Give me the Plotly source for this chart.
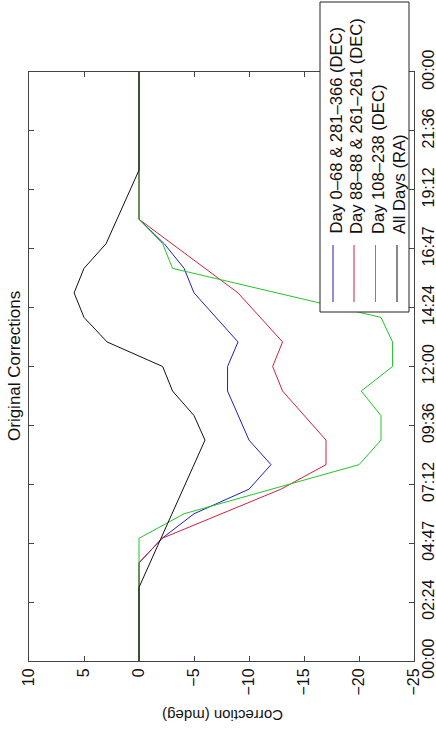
import plotly.graph_objects as go

# Hour-of-day samples (hours) and corrections (mdeg) for each series
blue_t = [0, 4, 5, 6, 7, 8, 9, 11, 12, 13, 15, 16, 17, 18, 24]
blue_v = [0, 0, -2.1, -5.0, -10.0, -12.0, -10.0, -8.05, -8.05, -9.0, -5.0, -4.1, -2.3, 0, 0]

red_t = [0, 4, 5, 7, 8, 9, 11, 12, 13, 15, 18, 24]
red_v = [0, 0, -2.1, -12.9, -17.0, -17.0, -13.05, -12.15, -13.05, -9.0, 0, 0]

green_t = [0, 5, 6, 8, 9, 10, 11, 12, 13, 14, 16, 17, 18, 24]
green_v = [0, 0, -4.1, -20.0, -22.0, -22.0, -20.2, -23.05, -23.05, -22.0, -3.05, -2.15, 0, 0]

black_t = [0, 3, 9, 10, 11, 12, 13, 14, 15, 16, 17, 20, 24]
black_v = [0, 0, -6.0, -5.0, -3.05, -2.15, 2.9, 5.0, 5.9, 5.0, 3.0, 0, 0]

series_names = ["Day 0\u201368 & 281\u2013366 (DEC)", "Day 88\u201388 & 261\u2013261 (DEC)",
                "Day 108\u2013238 (DEC)", "All Days (RA)"]
series_colors = ["#1f1fb4", "#d0203c", "#22c428", "#111111"]

value_ticks = [10, 5, 0, -5, -10, -15, -20, -25]
value_tick_text = ["10", "5", "0", "\u22125", "\u221210", "\u221215", "\u221220", "\u221225"]
time_tick_text = ["00:00", "02:24", "04:47", "07:12", "09:36", "12:00",
                  "14:24", "16:47", "19:12", "21:36", "00:00"]

W, H = 436, 733
L, R, T, B = 29, 414, 72, 661  # plot area in pixels
FONT = "Liberation Sans, Arial, sans-serif"


def px(x):
    return (x - L) / (R - L)


def py(y):
    return (B - y) / (B - T)


fig = go.Figure()
for t, v, c in zip([blue_t, red_t, green_t, black_t],
                   [blue_v, red_v, green_v, black_v], series_colors):
    fig.add_trace(go.Scatter(x=v, y=t, mode="lines", line=dict(color=c, width=1),
                             showlegend=False, hoverinfo="skip"))

axis_common = dict(showline=True, linecolor="#444", linewidth=1, mirror="allticks",
                   ticks="inside", ticklen=5, tickcolor="#444", showgrid=False,
                   zeroline=False, automargin=False,
                   tickfont=dict(family=FONT, size=16, color="#111"))

fig.update_xaxes(range=[10, -25], tickvals=value_ticks, ticktext=value_tick_text,
                 tickangle=-90, side="bottom", **axis_common)
fig.update_yaxes(range=[0, 24], tickvals=[2.4 * i for i in range(11)],
                 ticktext=time_tick_text, tickangle=-90, side="right", **axis_common)

annotations = [
    dict(text="Original Corrections", x=px(14), y=py(366), xref="paper", yref="paper",
         textangle=-90, showarrow=False, xanchor="center", yanchor="middle",
         font=dict(family=FONT, size=17, color="#111")),
    dict(text="Correction (mdeg)", x=px(222), y=py(716), xref="paper", yref="paper",
         textangle=180, showarrow=False, xanchor="center", yanchor="middle",
         font=dict(family=FONT, size=15, color="#111")),
]

# Legend box drawn with shapes and rotated text
shapes = [dict(type="rect", xref="paper", yref="paper", x0=px(320), x1=px(409),
               y0=py(312), y1=py(2), line=dict(color="#222", width=1),
               fillcolor="white", layer="above")]
legend_x = [333, 354, 375.5, 397]
for name, c, lx in zip(series_names, series_colors, legend_x):
    shapes.append(dict(type="line", xref="paper", yref="paper", x0=px(lx), x1=px(lx),
                       y0=py(302), y1=py(245), line=dict(color=c, width=1), layer="above"))
    annotations.append(dict(text=name, x=px(lx + 3), y=py(236), xref="paper", yref="paper",
                            textangle=-90, showarrow=False, xanchor="center",
                            yanchor="bottom", font=dict(family=FONT, size=16.6, color="#111")))

fig.update_layout(width=W, height=H, margin=dict(l=L, r=W - R, t=T, b=H - B),
                  paper_bgcolor="white", plot_bgcolor="white",
                  shapes=shapes, annotations=annotations)

fig.write_html("out.html")
